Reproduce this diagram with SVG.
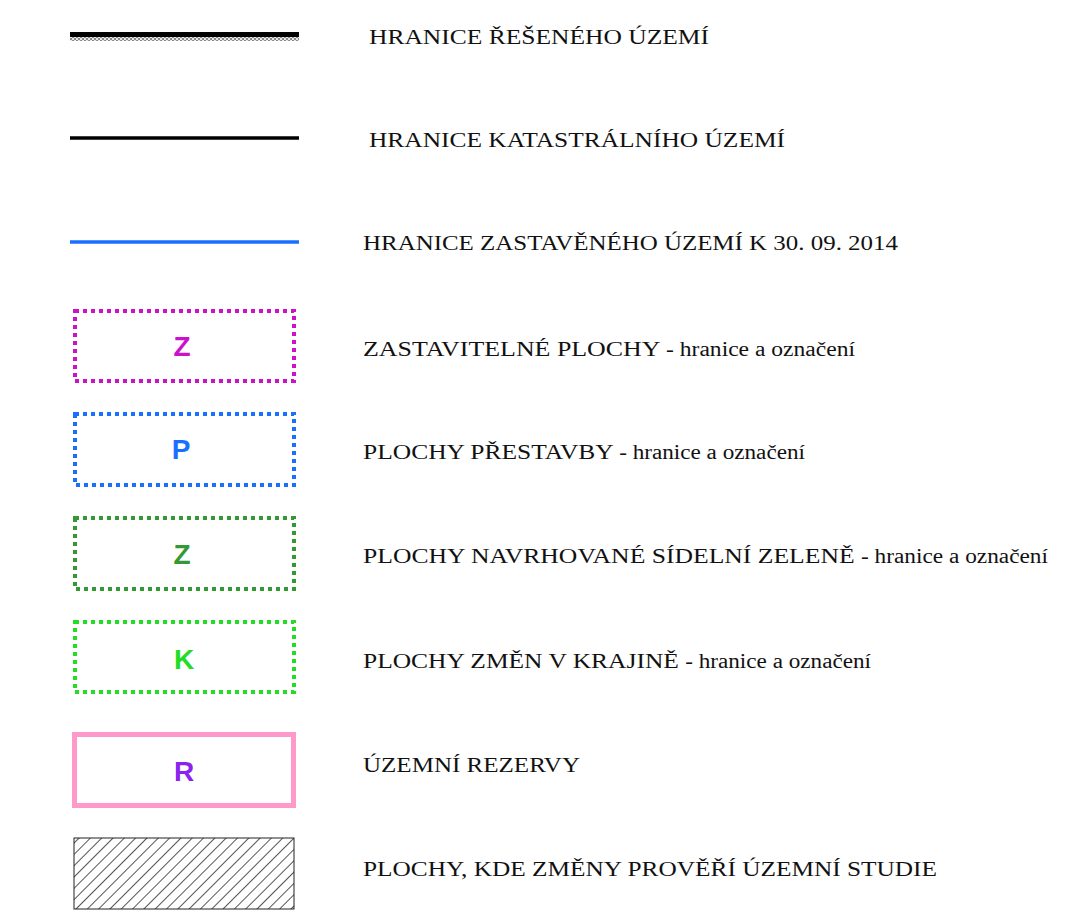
<svg xmlns="http://www.w3.org/2000/svg" width="1091" height="911" viewBox="0 0 1091 911">
<defs>
<pattern id="checker" width="4" height="4" patternUnits="userSpaceOnUse">
<rect width="4" height="4" fill="#e8e8e8"/>
<rect width="2" height="2" fill="#8a8a8a"/>
<rect x="2" y="2" width="2" height="2" fill="#8a8a8a"/>
</pattern>
<pattern id="hatch" width="8" height="8" patternUnits="userSpaceOnUse" patternTransform="rotate(45)">
<rect width="8" height="8" fill="#fff"/>
<line x1="0" y1="0" x2="0" y2="8" stroke="#2a2a2a" stroke-width="1.6"/>
</pattern>
</defs>
<style>
.lbl{font-family:"Liberation Serif","Times New Roman",serif;font-size:22px;fill:#111}
.sm{font-size:20px}
.code{font-family:"Liberation Sans",Arial,sans-serif;font-weight:bold;font-size:28px;text-anchor:middle}
.dot{fill:none;stroke-width:4;stroke-dasharray:4 4}
</style>
<rect width="1091" height="911" fill="#fff"/>
<g id="legend-lines">
<g id="l1">
<rect x="70" y="32" width="229" height="5" fill="#000"/>
<rect x="70" y="37" width="229" height="4" fill="url(#checker)"/>
<text class="lbl" x="369" y="44" textLength="340" lengthAdjust="spacingAndGlyphs">HRANICE ŘEŠENÉHO ÚZEMÍ</text>
</g>
<g id="l2">
<line x1="70" y1="138" x2="299" y2="138" stroke="#000" stroke-width="3.5"/>
<text class="lbl" x="369" y="147" textLength="416" lengthAdjust="spacingAndGlyphs">HRANICE KATASTRÁLNÍHO ÚZEMÍ</text>
</g>
<g id="l3">
<line x1="70" y1="242" x2="299" y2="242" stroke="#1a6fff" stroke-width="3.5"/>
<text class="lbl" x="363" y="250" textLength="535" lengthAdjust="spacingAndGlyphs">HRANICE ZASTAVĚNÉHO ÚZEMÍ K 30. 09. 2014</text>
</g>
</g>
<g id="n-z">
<rect class="dot" x="75" y="311" width="219" height="70" stroke="#cc11cc"/>
<text class="code" x="182" y="356" fill="#cc11cc">Z</text>
<text class="lbl" x="363" y="356" textLength="492" lengthAdjust="spacingAndGlyphs">ZASTAVITELNÉ PLOCHY <tspan class="sm">- hranice a označení</tspan></text>
</g>
<g id="n-p">
<rect class="dot" x="75" y="414" width="219" height="71" stroke="#1a6fff"/>
<text class="code" x="181" y="459" fill="#1a6fff">P</text>
<text class="lbl" x="363" y="459" textLength="442" lengthAdjust="spacingAndGlyphs">PLOCHY PŘESTAVBY <tspan class="sm">- hranice a označení</tspan></text>
</g>
<g id="n-zg">
<rect class="dot" x="75" y="518" width="219" height="71" stroke="#339933"/>
<text class="code" x="182" y="564" fill="#339933">Z</text>
<text class="lbl" x="363" y="563" textLength="685" lengthAdjust="spacingAndGlyphs">PLOCHY NAVRHOVANÉ SÍDELNÍ ZELENĚ <tspan class="sm">- hranice a označení</tspan></text>
</g>
<g id="n-k">
<rect class="dot" x="75" y="622" width="219" height="70" stroke="#22dd22"/>
<text class="code" x="184" y="669" fill="#22dd22">K</text>
<text class="lbl" x="363" y="668" textLength="508" lengthAdjust="spacingAndGlyphs">PLOCHY ZMĚN V KRAJINĚ <tspan class="sm">- hranice a označení</tspan></text>
</g>
<g id="n-r">
<rect x="74.5" y="734.5" width="219" height="71" fill="none" stroke="#ff99cc" stroke-width="5"/>
<text class="code" x="184" y="781" fill="#8b22ee">R</text>
<text class="lbl" x="363" y="772" textLength="217" lengthAdjust="spacingAndGlyphs">ÚZEMNÍ REZERVY</text>
</g>
<g id="n-s">
<rect x="74" y="838" width="220" height="71" fill="url(#hatch)" stroke="#222" stroke-width="1"/>
<text class="lbl" x="363" y="876" textLength="574" lengthAdjust="spacingAndGlyphs">PLOCHY, KDE ZMĚNY PROVĚŘÍ ÚZEMNÍ STUDIE</text>
</g>
<g id="connectors"/>
</svg>
